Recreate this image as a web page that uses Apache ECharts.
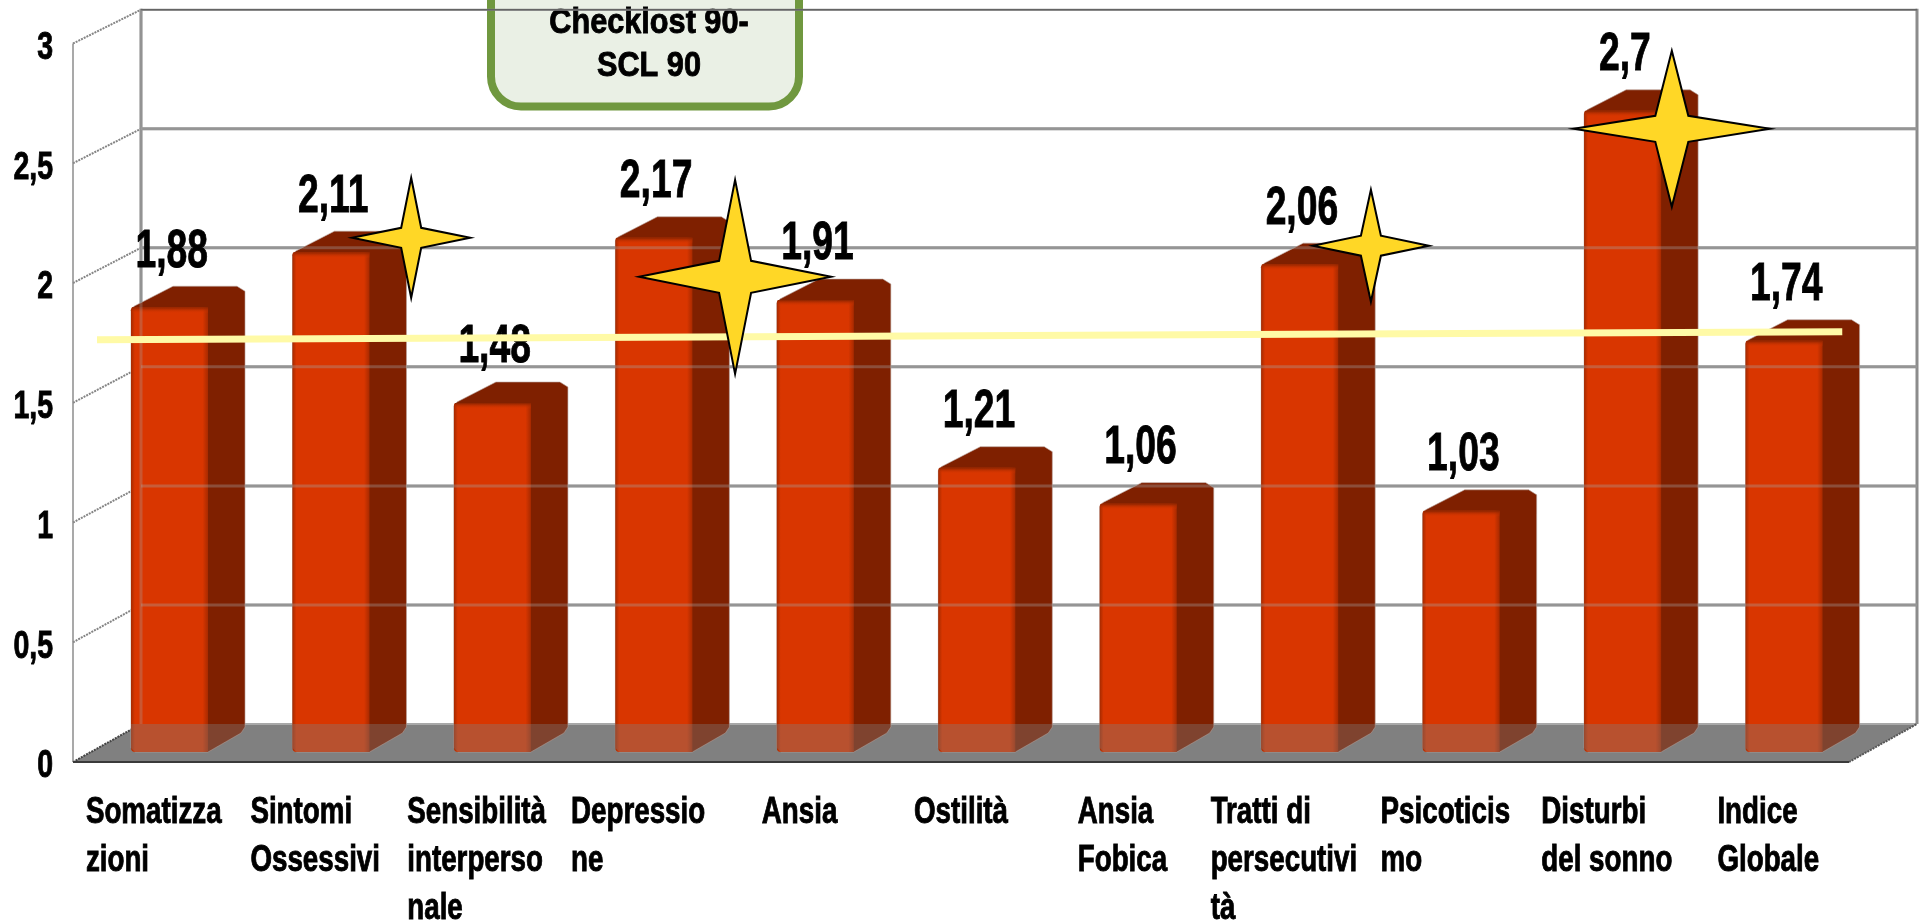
<!DOCTYPE html>
<html><head><meta charset="utf-8">
<style>html,body{margin:0;padding:0;background:#fff}#c{width:1923px;height:921px}</style>
<script src="https://cdn.jsdelivr.net/npm/echarts@6/dist/echarts.min.js"></script>
</head><body><div id="c"></div>
<script>
const categories = ["Somatizza\nzioni","Sintomi\nOssessivi","Sensibilità\ninterperso\nnale","Depressio\nne","Ansia","Ostilità","Ansia\nFobica","Tratti di\npersecutivi\ntà","Psicoticis\nmo","Disturbi\ndel sonno","Indice\nGlobale"];
const values = [1.88,2.11,1.48,2.17,1.91,1.21,1.06,2.06,1.03,2.7,1.74];
const yTicks = [0,0.5,1,1.5,2,2.5,3];
const averageLineEnds = [1.744,1.778];
const starCategories = [1,3,7,9];
const starValues = [2.17,2.007,2.137,2.625];
const boxTitle = "Checklost 90-\nSCL 90";

// drawing constants
const FONT = '"Liberation Sans",Arial,sans-serif';
const sharedFont = {fontFamily:FONT,fontWeight:'bold',stroke:'#000',lineWidth:.9};
const FRONT_DX = -18, FRONT_DY = 4.5;          // front edge of the floor, relative to the value scale
const BACK_DX = 50, BACK_DY = -33.5, BACK_SKEW = 1.4; // back wall, relative to the value scale
const BAR_FOOT = -5.5;
const BW = 77, BL = -40.7, DX = 37, DY = -21;
const starShapes = [[78,59,60,10,10],[79,96,97,16,16],[69,58,56,10,10],[47,98,78,16.5,13]];
const measure = document.createElement('canvas').getContext('2d');
const X_SIZE = 37, X_SX = 0.75;

function walls(params, api){
  const cs = params.coordSys, L = cs.x, R = cs.x+cs.width, ch = [];
  const line=(x1,y1,x2,y2,stroke,lw,dash)=>ch.push({type:'line',shape:{x1,y1,x2,y2},style:{stroke,lineWidth:lw,lineDash:dash||null}});
  const fy = t=>api.coord([0,t])[1]+FRONT_DY, by = t=>api.coord([0,t])[1]+BACK_DY+BACK_SKEW*t;
  const fl=L+FRONT_DX, fr=R+FRONT_DX, bl=L+BACK_DX, br=R+BACK_DX;
  ch.push({type:'polygon',shape:{points:[[fl,fy(0)],[bl,by(0)],[br,by(0)],[fr,fy(0)]]},style:{fill:'#808080'}});
  yTicks.forEach(t=>{
    if(t>0) line(bl,by(t),br,by(t),'#8c8c8c',t===3?2:3);
    line(fl,fy(t),bl,by(t),t===0?'#444':'#858585',2,[2,1]);
  });
  line(bl,by(0),br,by(0),'#a8a8a8',2);
  line(fl,fy(3),fl,fy(0),'#8c8c8c',1.5);
  line(bl,by(3)-1,bl,by(0),'#8c8c8c',3);
  line(br,by(3)-1,br,by(0),'#8c8c8c',3);
  line(fr,fy(0),br,by(0),'#555',2,[2,1]);
  line(fl,fy(0),fr,fy(0),'#3a3a3a',2);
  return {type:'group',children:ch};
}

function bar(params, api){
  const i = api.value(0), v = api.value(1);
  const top = api.coord([i,v]), base = api.coord([i,0]);
  const x = top[0]+BL, y = top[1], b = base[1]+BAR_FOOT, r = x+BW;
  const floorLine = base[1]+BACK_DY;
  const silhouette = [[x,y+3],[x+3,y-1],[x+DX+5,y+DY],[r+DX-8,y+DY],[r+DX,y+DY+5],[r+DX,b+DY-4],[r+DX-4,b+DY+2],[r,b],[x+4,b],[x,b-4]];
  const grad = new echarts.graphic.LinearGradient(0,0,1,0,[
    {offset:0,color:'#a52a00'},{offset:.05,color:'#d93600'},{offset:.93,color:'#d93600'},{offset:1,color:'#a82a00'}]);
  const topGrad = new echarts.graphic.LinearGradient(0,0,0,1,[{offset:0,color:'#8a2400'},{offset:1,color:'rgba(217,54,0,0)'}]);
  const overlay = [[x,floorLine],[r+DX,floorLine],[r+DX,b+DY-4],[r+DX-4,b+DY+2],[r,b],[x+4,b],[x,b-4]];
  return {type:'group',children:[
    {type:'polygon',shape:{points:silhouette},style:{fill:'#7f2000',stroke:'#b9a59d',lineWidth:.6}},
    {type:'rect',shape:{x,y,width:BW,height:b-y,r:[2,0,0,4]},style:{fill:grad}},
    {type:'rect',shape:{x:x+1,y,width:BW-1,height:6},style:{fill:topGrad}},
    {type:'polygon',shape:{points:overlay},style:{fill:'rgba(128,128,128,.37)'}}
  ]};
}

function gridOverlay(params, api){
  const cs = params.coordSys, L = cs.x+BACK_DX, R = cs.x+cs.width+BACK_DX, ch=[];
  const by = t=>api.coord([0,t])[1]+BACK_DY+BACK_SKEW*t;
  yTicks.forEach(t=>{ if(t>0){
    ch.push({type:'line',shape:{x1:L,y1:by(t),x2:R,y2:by(t)},style:{stroke:t===3?'rgba(90,90,90,.8)':'rgba(165,165,165,.35)',lineWidth:t===3?1.5:3}});
  }});
  ch.push({type:'line',shape:{x1:L,y1:by(3),x2:L,y2:by(0)},style:{stroke:'rgba(165,165,165,.3)',lineWidth:3}});
  return {type:'group',children:ch};
}

function valueLabel(params, api){
  const i = api.value(0), v = api.value(1), p = api.coord([i,v]);
  return {type:'text',x:p[0],y:p[1]-55.5,scaleX:.69,style:{text:String(v).replace('.',','),align:'center',verticalAlign:'middle',fill:'#000',fontSize:54,...sharedFont}};
}

function yTickLabel(params, api){
  const t = api.value(1), y = api.coord([0,t])[1];
  return {type:'text',x:params.coordSys.x-38,y:y+9,scaleX:.73,style:{text:String(t).replace('.',','),align:'right',verticalAlign:'middle',fill:'#000',fontSize:39,...sharedFont}};
}

function xTickLabel(params, api){
  const i = api.value(0), p = api.coord([i,0]), text = categories[i];
  measure.font = 'bold '+X_SIZE+'px '+FONT;
  const w = Math.max(...text.split('\n').map(l=>measure.measureText(l).width))*X_SX;
  return {type:'text',x:p[0]-18-w/2,y:p[1]+31.5,scaleX:X_SX,style:{text,align:'left',verticalAlign:'top',lineHeight:48,fill:'#000',fontSize:X_SIZE,...sharedFont}};
}

function avgLine(params, api){
  const n = categories.length;
  const a = api.coord([0,averageLineEnds[0]]), b = api.coord([n-1,averageLineEnds[1]]);
  return {type:'line',shape:{x1:a[0]-74.7,y1:a[1],x2:b[0]+56,y2:b[1]},style:{stroke:'#fffaa6',lineWidth:7}};
}

function star(params, api){
  const i = params.dataIndex, p = api.coord([api.value(0),api.value(1)]);
  const [ox,hw,hh,ix,iy] = starShapes[i], cx = p[0]+ox, cy = p[1];
  return {type:'polygon',shape:{points:[[cx,cy-hh],[cx+ix,cy-iy],[cx+hw,cy],[cx+ix,cy+iy],[cx,cy+hh],[cx-ix,cy+iy],[cx-hw,cy],[cx-ix,cy-iy]]},
    style:{fill:'#ffd726',stroke:'#000',lineWidth:2,lineJoin:'miter'}};
}

const barData = values.map((v,i)=>[i,v]);
const custom = (name,renderItem,data,z)=>({name,type:'custom',renderItem,data,z,silent:true,clip:false,encode:{x:0,y:1},animation:false});

const chart = echarts.init(document.getElementById('c'));
chart.setOption({
  animation:false,
  backgroundColor:'#fff',
  grid:{left:91,width:1776,top:39,height:718.5},
  xAxis:{type:'category',data:categories,axisLine:{show:false},axisTick:{show:false},splitLine:{show:false},axisLabel:{show:false}},
  yAxis:{type:'value',min:0,max:3,interval:0.5,axisLine:{show:false},axisTick:{show:false},splitLine:{show:false},axisLabel:{show:false}},
  graphic:[{type:'group',z:2,silent:true,children:[
    {type:'rect',shape:{x:491,y:-40,width:308,height:146.5,r:30},style:{fill:'#eaf0e5',stroke:'#70983f',lineWidth:8}},
    {type:'text',x:649,y:44.5,scaleX:.876,style:{text:boxTitle,align:'center',verticalAlign:'middle',lineHeight:43,fontSize:35,fill:'#000',...sharedFont}}
  ]}],
  series:[
    custom('walls',walls,[[0,0]],1),
    custom('xLabels',xTickLabel,categories.map((c,i)=>[i,0]),1),
    custom('yLabels',yTickLabel,yTicks.map(t=>[0,t]),1),
    custom('bars',bar,barData,3),
    custom('grid',gridOverlay,[[0,0]],4),
    custom('labels',valueLabel,barData,5),
    custom('average',avgLine,[[0,averageLineEnds[0]]],6),
    custom('stars',star,starCategories.map((c,i)=>[c,starValues[i]]),7)
  ]
});
</script></body></html>
